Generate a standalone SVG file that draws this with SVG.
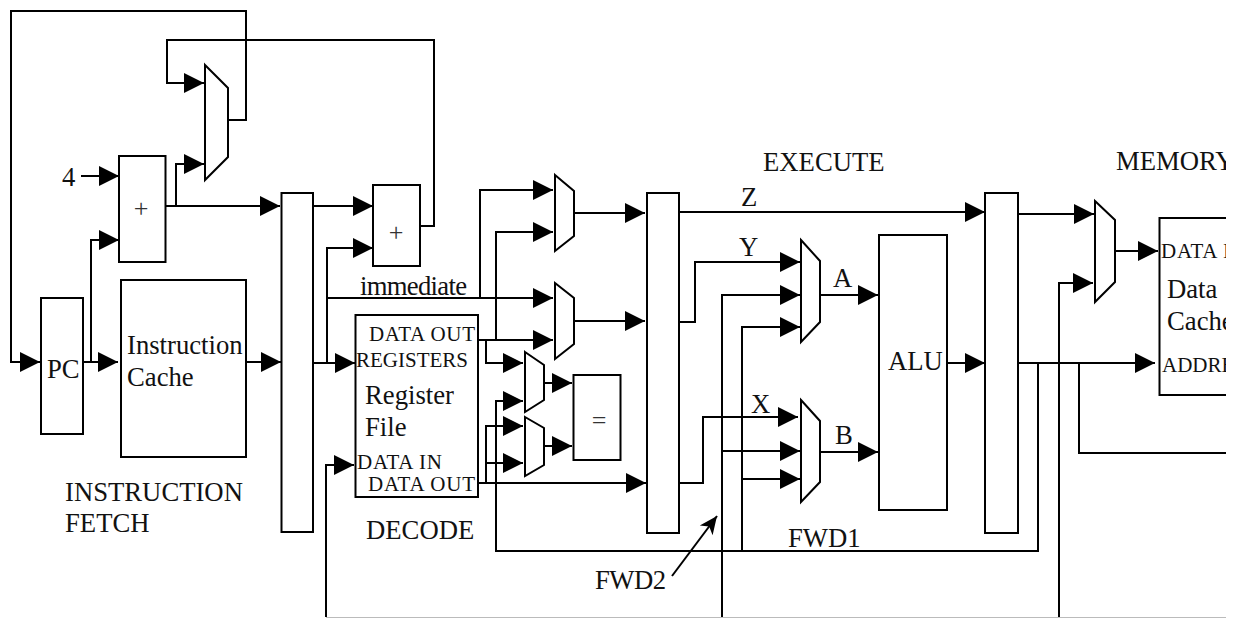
<svg xmlns="http://www.w3.org/2000/svg" width="1243" height="618" viewBox="0 0 1243 618">
<style>
.n{fill:#fff;stroke:#000;stroke-width:2}
.c{fill:none;stroke:#000;stroke-width:2;stroke-linejoin:miter}
.a{marker-end:url(#ah)}
text{font-family:"Liberation Serif","Times New Roman",serif;font-size:26.700px;fill:#111}
.s{font-size:21px}
.p{font-size:26px;fill:#333}
</style>
<defs>
<marker id="ah" markerUnits="userSpaceOnUse" markerWidth="20" markerHeight="20" refX="20" refY="10" orient="auto" overflow="visible"><path d="M0,0L20,10L0,20z" fill="#000"/></marker>
<marker id="ah2" markerUnits="userSpaceOnUse" markerWidth="20" markerHeight="16" refX="18" refY="8" orient="auto" overflow="visible"><path d="M0,0L18,8L0,16L5,8z" fill="#000"/></marker>
<clipPath id="cp"><rect x="0" y="0" width="1226" height="618"/></clipPath>
</defs>
<rect width="1243" height="618" fill="#fff"/>
<g clip-path="url(#cp)">
<g id="connectors">
<path class="c a" d="M228,120H246V11H11V362H40"/>
<path class="c a" d="M420,226H434V40H167V83H204"/>
<path class="c a" d="M81,176H119"/>
<path class="c a" d="M83,362H91V240H119"/>
<path class="c a" d="M91,362H118"/>
<path class="c a" d="M165,206H280"/>
<path class="c a" d="M176,206V164H204"/>
<path class="c a" d="M246,362H281"/>
<path class="c a" d="M313,206H373"/>
<path class="c a" d="M313,363H355"/>
<path class="c a" d="M327,363V248H373"/>
<path class="c a" d="M327,298H553"/>
<path class="c a" d="M480,298V190H553"/>
<path class="c a" d="M478,340H553"/>
<path class="c a" d="M496,340V232H553"/>
<path class="c a" d="M486,340V363H523"/>
<path class="c a" d="M574,213H645"/>
<path class="c a" d="M574,321H645"/>
<path class="c a" d="M544,383H572"/>
<path class="c a" d="M544,446H572"/>
<path class="c a" d="M478,483H646"/>
<path class="c a" d="M486,483V426H523"/>
<path class="c a" d="M486,463H523"/>
<path class="c a" d="M1038,363V551H496V401H523"/>
<path class="c a" d="M679,212H985"/>
<path class="c a" d="M679,322H695V262H800"/>
<path class="c a" d="M722,617V295H800"/>
<path class="c a" d="M742,551V327H800"/>
<path class="c a" d="M679,483H703V417H798"/>
<path class="c a" d="M722,451H800"/>
<path class="c a" d="M742,479H800"/>
<path class="c a" d="M820,295H878"/>
<path class="c a" d="M820,452H878"/>
<path class="c a" d="M947,363H985"/>
<path class="c a" d="M1018,214H1094"/>
<path class="c a" d="M1115,251H1158"/>
<path class="c a" d="M1018,363H1155"/>
<path class="c" d="M1079,363V453H1226"/>
<path class="c a" d="M1059,617V283H1093"/>
<path class="c a" d="M326,617V465H354"/>
<path d="M326,617.500H1226" fill="none" stroke="#bbb" stroke-width="1"/>
<path d="M672,576L717,516" fill="none" stroke="#000" stroke-width="2" marker-end="url(#ah2)"/>
</g>
<g id="pc"><rect class="n" x="41" y="298" width="42" height="136"/><text x="47" y="378">PC</text></g>
<g id="adder1"><rect class="n" x="119" y="156" width="46.500" height="106"/><text class="p" x="141" y="217" text-anchor="middle">+</text></g>
<g id="mux-pc"><path class="n" d="M205,65L228,88V157L205,180z"/></g>
<g id="instruction-cache"><rect class="n" x="121" y="280" width="125" height="177"/><text x="127" y="354">Instruction</text><text x="127" y="386">Cache</text></g>
<g id="latch-if"><rect class="n" x="281.500" y="193" width="31.500" height="339"/></g>
<g id="adder2"><rect class="n" x="373" y="185" width="47" height="81"/><text class="p" x="396" y="241" text-anchor="middle">+</text></g>
<g id="register-file"><rect class="n" x="355.500" y="315" width="122.500" height="182"/><text class="s" x="369" y="341" textLength="106">DATA OUT</text><text class="s" x="356" y="367" textLength="112">REGISTERS</text><text x="365" y="404">Register</text><text x="365" y="436">File</text><text class="s" x="357" y="469" textLength="85">DATA IN</text><text class="s" x="368" y="491" textLength="107">DATA OUT</text></g>
<g id="mux-d1"><path class="n" d="M555,175L574,191V236L555,251z"/></g>
<g id="mux-d2"><path class="n" d="M555,283L574,298V344L555,359z"/></g>
<g id="mux-d3"><path class="n" d="M525,352L544,365V400L525,412z"/></g>
<g id="mux-d4"><path class="n" d="M525,417L544,428V465L525,476z"/></g>
<g id="compare"><rect class="n" x="573.500" y="375" width="47" height="85"/><text class="p" x="599" y="429" text-anchor="middle">=</text></g>
<g id="latch-id"><rect class="n" x="647" y="193" width="32" height="340"/></g>
<g id="mux-a"><path class="n" d="M801,240L820,261V322L801,342z"/></g>
<g id="mux-b"><path class="n" d="M801,400L820,421V482L801,502z"/></g>
<g id="alu"><rect class="n" x="879" y="235" width="68" height="275"/><text x="888" y="370">ALU</text></g>
<g id="latch-ex"><rect class="n" x="985" y="193" width="33" height="340"/></g>
<g id="mux-m"><path class="n" d="M1095,201L1115,220V282L1095,302z"/></g>
<g id="data-cache"><rect class="n" x="1159.500" y="218" width="100" height="177"/><text class="s" x="1161" y="258" textLength="85">DATA IN</text><text x="1167" y="298">Data</text><text x="1167" y="330">Cache</text><text class="s" x="1162" y="372">ADDRESS</text></g>
<g id="labels">
<text x="62" y="186">4</text>
<text x="360" y="295" textLength="107">immediate</text>
<text x="65" y="501">INSTRUCTION</text>
<text x="65" y="532">FETCH</text>
<text x="366" y="539">DECODE</text>
<text x="763" y="171">EXECUTE</text>
<text x="1116" y="170">MEMORY</text>
<text x="741" y="206">Z</text>
<text x="739" y="256">Y</text>
<text x="751" y="413">X</text>
<text x="833" y="287">A</text>
<text x="835" y="444">B</text>
<text x="788" y="547">FWD1</text>
<text x="595" y="589" textLength="71">FWD2</text>
</g>
</g>
</svg>
